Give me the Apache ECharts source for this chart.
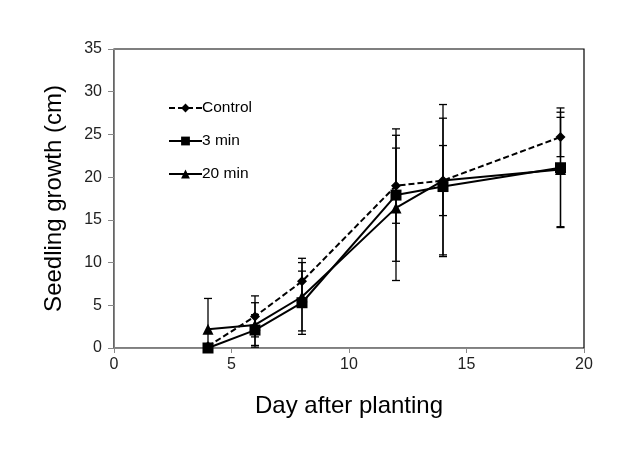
<!DOCTYPE html>
<html>
<head>
<meta charset="utf-8">
<script src="https://cdn.jsdelivr.net/npm/echarts@6/dist/echarts.min.js"></script>
<style>
html,body{margin:0;padding:0;background:#fff;}
#chart{width:641px;height:464px;}
</style>
</head>
<body>
<div id="chart"></div>
<script>
var days = [4, 6, 8, 12, 14, 19];
var controlVals = [0.2, 3.7, 7.8, 19.0, 19.6, 24.7];
var controlErr  = [0, 2.4, 2.7, 4.4, 4.1, 2.3];
var min3Vals = [0, 2.1, 5.3, 17.9, 18.9, 21.1];
var min3Err  = [0, 1.8, 3.7, 7.75, 8.0, 7.0];
var min20Vals = [2.2, 2.7, 6.0, 16.4, 19.6, 20.9];
var min20Err  = [3.6, 2.6, 4.0, 8.5, 8.9, 6.7];
var seriesNames = ['Control', '3 min', '20 min'];
var xTicks = [0, 5, 10, 15, 20];
var yTicks = [0, 5, 10, 15, 20, 25, 30, 35];

function pairs(vals) { return days.map(function (d, i) { return [d, vals[i]]; }); }
function errData(vals, errs) { return days.map(function (d, i) { return [d, vals[i] - errs[i], vals[i] + errs[i]]; }); }

function renderErr(params, api) {
  var x = api.value(0), lo = api.value(1), hi = api.value(2);
  if (hi - lo <= 0) return null;
  var half = 4;
  var loClamped = Math.max(lo, 0);
  var pHi = api.coord([x, hi]);
  var pLo = api.coord([x, loClamped]);
  var st = { stroke: '#000', lineWidth: 1.3 };
  var children = [
    { type: 'line', shape: { x1: pHi[0], y1: pHi[1], x2: pLo[0], y2: pLo[1] }, style: st },
    { type: 'line', shape: { x1: pHi[0] - half, y1: pHi[1], x2: pHi[0] + half, y2: pHi[1] }, style: st }
  ];
  if (lo >= 0) {
    children.push({ type: 'line', shape: { x1: pLo[0] - half, y1: pLo[1], x2: pLo[0] + half, y2: pLo[1] }, style: st });
  }
  return { type: 'group', children: children };
}

var font = 'Liberation Sans, Arial, sans-serif';
var chart = echarts.init(document.getElementById('chart'), null, { renderer: 'canvas' });
chart.setOption({
  animation: false,
  backgroundColor: '#fff',
  grid: { left: 114, right: 57, top: 49, bottom: 116, show: true, borderColor: '#000', borderWidth: 1.2, backgroundColor: 'transparent' },
  legend: {
    data: seriesNames,
    orient: 'vertical',
    left: 163, top: 95,
    itemWidth: 33, itemHeight: 11, itemGap: 17,
    textStyle: { fontFamily: font, fontSize: 15.5, color: '#000', padding: [0, 0, 0, -5] }
  },
  xAxis: {
    type: 'value', min: 0, max: 20, interval: 5,
    name: 'Day after planting', nameLocation: 'middle', nameGap: 46,
    nameTextStyle: { fontFamily: font, fontSize: 24, color: '#000' },
    axisLine: { lineStyle: { color: '#888', width: 1 } },
    axisTick: { show: true, inside: false, length: 5, lineStyle: { color: '#888' } },
    axisLabel: { fontFamily: font, fontSize: 16, color: '#222', margin: 9,
      formatter: function (v) { return xTicks.indexOf(v) >= 0 ? String(v) : ''; } },
    splitLine: { show: false }
  },
  yAxis: {
    type: 'value', min: 0, max: 35, interval: 5,
    name: 'Seedling growth (cm)', nameLocation: 'middle', nameGap: 48,
    nameTextStyle: { fontFamily: font, fontSize: 24, color: '#000' },
    axisLine: { show: true, lineStyle: { color: '#888', width: 1 } },
    axisTick: { show: true, inside: false, length: 6, lineStyle: { color: '#888' } },
    axisLabel: { fontFamily: font, fontSize: 16, color: '#222', margin: 12,
      formatter: function (v) { return yTicks.indexOf(v) >= 0 ? String(v) : ''; } },
    splitLine: { show: false }
  },
  series: [
    { type: 'custom', name: 'errControl', renderItem: renderErr, data: errData(controlVals, controlErr), encode: { x: 0, y: [1, 2] }, z: 1, silent: true },
    { type: 'custom', name: 'err3', renderItem: renderErr, data: errData(min3Vals, min3Err), encode: { x: 0, y: [1, 2] }, z: 1, silent: true },
    { type: 'custom', name: 'err20', renderItem: renderErr, data: errData(min20Vals, min20Err), encode: { x: 0, y: [1, 2] }, z: 1, silent: true },
    { type: 'line', name: 'Control', data: pairs(controlVals), symbol: 'diamond', symbolSize: 10, showAllSymbol: true,
      lineStyle: { color: '#000', width: 2, type: [6, 3] }, itemStyle: { color: '#000' }, z: 3 },
    { type: 'line', name: '3 min', data: pairs(min3Vals), symbol: 'rect', symbolSize: 11, showAllSymbol: true,
      lineStyle: { color: '#000', width: 2 }, itemStyle: { color: '#000' }, z: 2 },
    { type: 'line', name: '20 min', data: pairs(min20Vals), symbol: 'triangle', symbolSize: 11, showAllSymbol: true,
      lineStyle: { color: '#000', width: 2 }, itemStyle: { color: '#000' }, z: 2 }
  ]
});
</script>
</body>
</html>
